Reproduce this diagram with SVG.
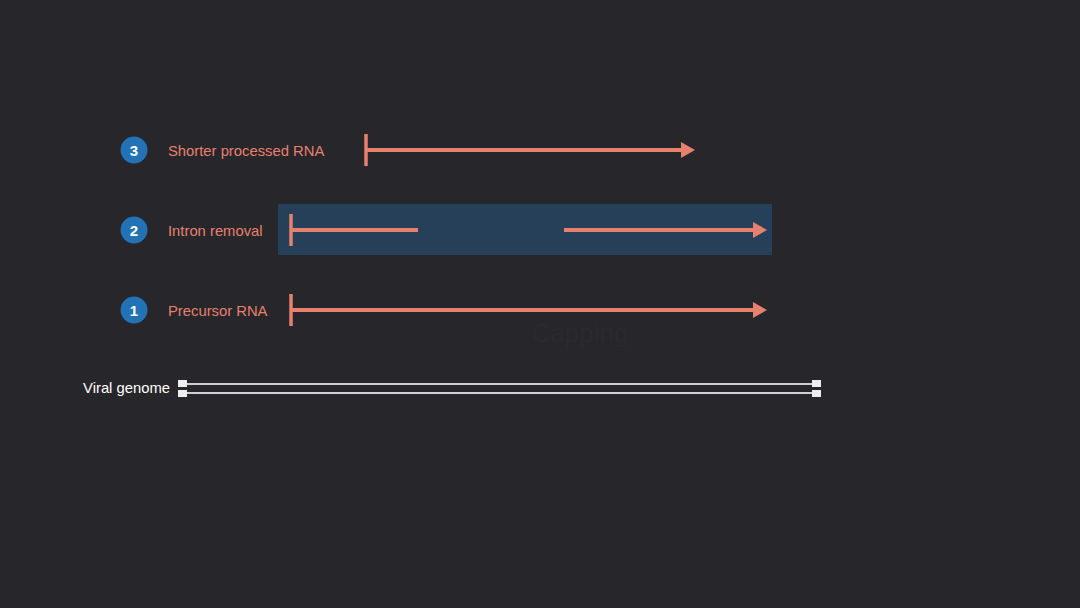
<svg xmlns="http://www.w3.org/2000/svg" width="1080" height="608" viewBox="0 0 1080 608">
<style>
.lbl{font-family:"Liberation Sans",Arial,sans-serif;font-size:14.8px;fill:#e8806e}
.num{font-family:"Liberation Sans",Arial,sans-serif;font-size:15px;font-weight:bold;fill:#ffffff;text-anchor:middle}
.badge{fill:#2272b6}
.rna{stroke:#e8806e;stroke-width:4;fill:none}
.bar{stroke:#e8806e;stroke-width:3.5}
.dna{stroke:#d0d0d0;stroke-width:2}
.cap{fill:#eeeeee}
</style>
<defs>
<marker id="ah" markerWidth="14" markerHeight="16" refX="0" refY="8" markerUnits="userSpaceOnUse" orient="auto">
<path d="M0,0 L14,8 L0,16 Z" fill="#e8806e"/>
</marker>
</defs>
<rect width="1080" height="608" fill="#27262b"/>
<text x="580" y="342" font-family="Liberation Sans,Arial,sans-serif" font-size="26" fill="#2a2a2f" text-anchor="middle">Capping</text>
<g id="highlight"><rect x="278" y="204" width="494" height="51" fill="#26405a"/></g>
<g id="step3">
<circle class="badge" cx="134" cy="150" r="13.5"/>
<text class="num" x="134" y="155.5">3</text>
<text class="lbl" x="168" y="155.5">Shorter processed RNA</text>
</g>
<g id="step2">
<circle class="badge" cx="134" cy="230" r="13.5"/>
<text class="num" x="134" y="235.5">2</text>
<text class="lbl" x="168" y="235.5">Intron removal</text>
</g>
<g id="step1">
<circle class="badge" cx="134" cy="310" r="13.5"/>
<text class="num" x="134" y="315.5">1</text>
<text class="lbl" x="168" y="315.5">Precursor RNA</text>
</g>
<g id="genome">
<text x="170" y="392.5" font-family="Liberation Sans,Arial,sans-serif" font-size="14.8" fill="#ffffff" text-anchor="end">Viral genome</text>
<line class="dna" x1="182" y1="384" x2="816" y2="384"/>
<line class="dna" x1="182" y1="393" x2="816" y2="393"/>
<rect class="cap" x="178" y="380" width="9" height="7"/>
<rect class="cap" x="178" y="390" width="9" height="7"/>
<rect class="cap" x="812" y="380" width="9" height="7"/>
<rect class="cap" x="812" y="390" width="9" height="7"/>
</g>
<g id="connectors">
<line class="bar" x1="366" y1="134" x2="366" y2="166"/>
<line class="rna" x1="366" y1="150" x2="681" y2="150" marker-end="url(#ah)"/>
<line class="bar" x1="291" y1="214" x2="291" y2="246"/>
<line class="rna" x1="291" y1="230" x2="418" y2="230"/>
<line class="rna" x1="564" y1="230" x2="753" y2="230" marker-end="url(#ah)"/>
<line class="bar" x1="291" y1="294" x2="291" y2="326"/>
<line class="rna" x1="291" y1="310" x2="753" y2="310" marker-end="url(#ah)"/>
</g>
</svg>
